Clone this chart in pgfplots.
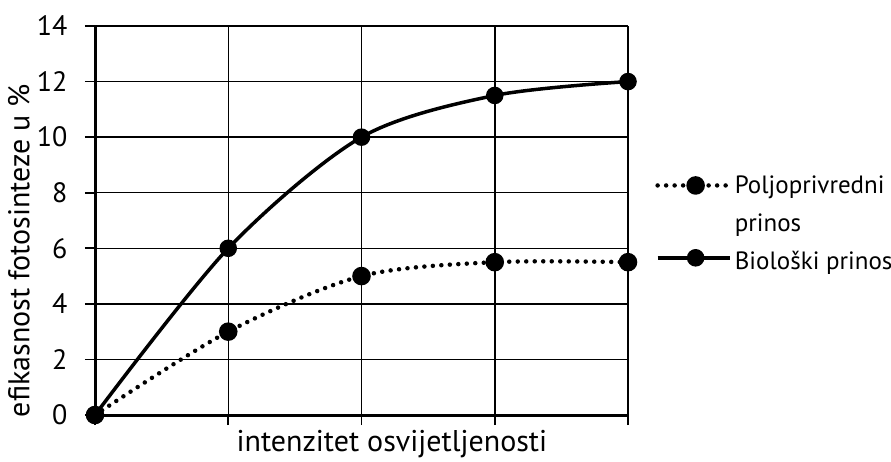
\documentclass[border=0pt]{standalone}
\usepackage{fontspec}
\setmainfont{PT Sans}
\usepackage{pgfplots}
\pgfplotsset{compat=1.18}
\newcommand{\ft}{\fontsize{28pt}{32pt}\selectfont}
\newcommand{\fl}{\fontsize{30pt}{34pt}\selectfont}
\newcommand{\fg}{\fontsize{25pt}{29pt}\selectfont}
\begin{document}
\begin{tikzpicture}
\path[use as bounding box] (0,0) rectangle (891pt,461pt);
\begin{axis}[at={(95pt,46pt)}, anchor=south west, scale only axis,
  width=533pt, height=389pt,
  xmin=0, xmax=4, ymin=0, ymax=14,
  axis lines=left, axis line style={-, line width=3pt},
  xtick={0,1,2,3,4}, xticklabels={,,,,},
  ytick={0,2,...,14},
  tick align=outside, major tick length=10pt,
  tick style={line width=1.7pt, black},
  grid=major, major grid style={line width=1.5pt, black},
  /pgf/number format/assume math mode=true,
  tick label style={font=\ft},
  yticklabel style={xshift=-14pt},
  label style={font=\fl},
  xlabel={intenzitet osvijetljenosti},
  ylabel={efikasnost fotosinteze u \%},
  xlabel style={at={(axis description cs:0.557,-0.075)}, anchor=center},
  ylabel style={at={(axis description cs:-0.143,0.423)}, anchor=center, rotate=0},
  clip=false,
  legend image code/.code={\draw[mark repeat=2,mark phase=2,#1] plot coordinates {(0pt,0pt) (38pt,0pt) (72pt,0pt)};},
  legend style={at={(axis description cs:1.051,0.623)}, anchor=north west,
    draw=none, fill=none, font=\fg, inner sep=0pt, row sep=6pt,
    cells={anchor=west}, nodes={inner sep=3pt}},
]
\addplot[black, line width=4.5pt, line cap=round, dash pattern=on 0pt off 8.5pt, smooth,
  mark=*, mark size=7pt, mark options={solid, fill=black}]
  coordinates {(0,0) (1,3) (2,5) (3,5.5) (4,5.5)};
\addlegendentry{Poljoprivredni}
\addlegendimage{empty legend}
\addlegendentry{\rule{0pt}{24pt}prinos}
\addplot[black, line width=3.5pt, smooth,
  mark=*, mark size=7pt, mark options={solid, fill=black}]
  coordinates {(0,0) (1,6) (2,10) (3,11.5) (4,12)};
\addlegendentry{\rule{0pt}{25pt}Biološki prinos}
\end{axis}
\end{tikzpicture}
\end{document}
